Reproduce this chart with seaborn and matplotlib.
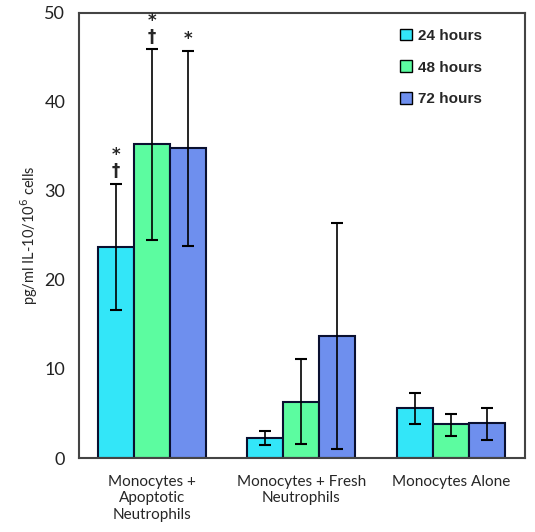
import matplotlib
matplotlib.use("Agg")
import matplotlib.pyplot as plt
import seaborn as sns
import pandas as pd
import numpy as np
from matplotlib.patches import Patch

categories = ["Monocytes +\nApoptotic\nNeutrophils", "Monocytes + Fresh\nNeutrophils", "Monocytes Alone"]
series = ["24 hours", "48 hours", "72 hours"]
values = {
    "24 hours": [23.7, 2.2, 5.6],
    "48 hours": [35.3, 6.3, 3.8],
    "72 hours": [34.8, 13.7, 3.9],
}
err_upper = {
    "24 hours": [30.8, 3.0, 7.3],
    "48 hours": [45.9, 11.1, 4.9],
    "72 hours": [45.7, 26.4, 5.6],
}
err_lower = {
    "24 hours": [16.6, 1.5, 3.8],
    "48 hours": [24.5, 1.6, 2.5],
    "72 hours": [23.8, 1.0, 2.0],
}
marks = {
    ("24 hours", 0): "*\n†",
    ("48 hours", 0): "*\n†",
    ("72 hours", 0): "*",
}
colors = ["#33E6F8", "#5CFCA0", "#6E8FEE"]

rows = []
for s in series:
    for i, c in enumerate(categories):
        rows.append({"cat": c, "series": s, "val": values[s][i]})
df = pd.DataFrame(rows)

sns.set_style("white")
plt.rcParams["font.family"] = ["Lato", "DejaVu Sans"]
fig = plt.figure(figsize=(5.35, 5.32), dpi=100)
ax = fig.add_axes([0.148, 0.139, 0.833, 0.837])

sns.barplot(data=df, x="cat", y="val", hue="series", palette=colors, saturation=1,
            errorbar=None, width=0.72, gap=0, edgecolor="#0a1030",
            linewidth=1.5, ax=ax, legend=False)

for si, s in enumerate(series):
    cont = ax.containers[si]
    for i, bar in enumerate(cont):
        xc = bar.get_x() + bar.get_width() / 2
        v = values[s][i]
        lo = v - err_lower[s][i]
        hi = err_upper[s][i] - v
        ax.errorbar([xc], [v], yerr=[[lo], [hi]], fmt="none", ecolor="black",
                    elinewidth=1.2, capsize=4, capthick=1.5)
        if (s, i) in marks:
            ax.text(xc, err_upper[s][i] + 0.4, marks[(s, i)], ha="center", va="bottom",
                    fontsize=12, fontweight="bold", linespacing=0.85,
                    family=["DejaVu Sans"])

ax.set_ylim(0, 50)
ax.set_xlim(-0.485, 2.495)
ax.set_yticks([0, 10, 20, 30, 40, 50])
ax.tick_params(axis="y", labelsize=13, length=0, pad=10, labelcolor="#222222")
ax.tick_params(axis="x", labelsize=11, length=0, pad=12)
for lab in ax.get_xticklabels():
    lab.set_linespacing(1.25)
ax.set_xlabel("")
ax.set_ylabel("pg/ml IL-10/10$^6$ cells", fontsize=10.5, labelpad=3)
for sp in ax.spines.values():
    sp.set_visible(True)
    sp.set_color("#444444")
    sp.set_linewidth(1.5)

handles = [Patch(facecolor=colors[i], edgecolor="black", linewidth=1) for i in range(3)]
leg = ax.legend(handles, series, loc="upper right", bbox_to_anchor=(0.935, 0.995),
                frameon=False, handlelength=0.8, handleheight=0.8, handletextpad=0.4,
                labelspacing=1.15, prop={"family": "Liberation Sans", "weight": "bold", "size": 11})

fig.savefig("out.png", dpi=100)
